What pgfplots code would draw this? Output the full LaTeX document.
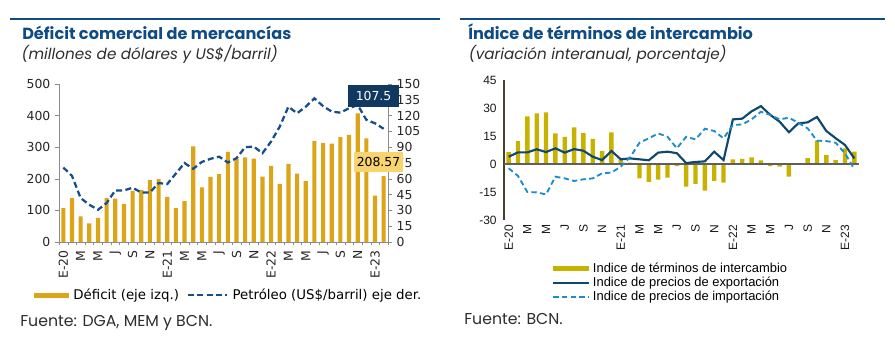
\documentclass[border=0pt]{standalone}
\usepackage{fontspec}
\usepackage{pgfplots}
\usepackage{pgfplotstable}
\pgfplotsset{compat=1.18}
\setmainfont{Poppins}
\newfontfamily\dejavu{DejaVu Sans}
\newfontfamily\libsans{Liberation Sans}
\definecolor{titleblue}{RGB}{16,76,132}
\definecolor{subgray}{RGB}{45,45,45}
\definecolor{barGold}{RGB}{220,165,25}
\definecolor{oilBlue}{RGB}{22,78,140}
\definecolor{boxNavy}{RGB}{16,56,96}
\definecolor{boxYellow}{RGB}{248,212,110}
\definecolor{totOlive}{RGB}{200,178,0}
\definecolor{expBlue}{RGB}{14,72,108}
\definecolor{impBlue}{RGB}{30,140,200}
\definecolor{axDark}{RGB}{70,65,40}
\definecolor{zeroGray}{RGB}{95,95,95}

\pgfplotstableread{
i def oil
0 107 70.7
1 139 62.8
2 81 41.7
3 59 35.4
4 76 30.6
5 139 37
6 137 49
7 120 49
8 162 51.5
9 165 47
10 197 47
11 199 56
12 143 55
13 107 65
14 129 75
15 303 69.5
16 173 76
17 206 79
18 215 81
19 285 75.5
20 265 79.6
21 268 90
22 264 90.6
23 207 84.3
24 241 95.4
25 184 109.6
26 247 128.5
27 216 122.2
28 193 128.5
29 320 136.4
30 313 129
31 311 123.8
32 332 122.8
33 339 127
34 407 130
35 328 116
36 147 112.7
37 208.57 107.5
}\lefttab

\pgfplotstableread{
i tot exp imp
0 6.4 3.9 -2.3
1 12.3 6.25 -6.4
2 25.5 6.25 -15
3 27.1 7.9 -15.2
4 27.7 6.4 -16.3
5 16.4 8.4 -6.8
6 14.5 6.1 -7.7
7 19.6 8 -9.1
8 16.6 7.1 -8.2
9 13.4 3.9 -7.7
10 7.1 2.1 -5
11 17 7 -4.6
12 2.5 2.5 -1.4
13 0.7 3 3.6
14 -7.7 2.5 11.4
15 -9.6 2 13.75
16 -8.4 6.1 16.4
17 -7.3 6.6 14.6
18 -1.2 5.8 8.4
19 -12.1 0.5 14.6
20 -10.7 1.1 13.2
21 -14.3 1.4 18.9
22 -9.1 6.6 17.7
23 -10 2.1 13.75
24 2.5 23.9 20.9
25 2.7 24.3 21.2
26 3.6 28.2 23.9
27 2.0 31 28
28 -1.1 26.3 26.3
29 -1.4 22.7 23.9
30 -6.8 17 24.8
31 0.2 21.8 22.1
32 3.2 22.3 19.1
33 12.5 25.2 12.5
34 4.8 17.7 12.3
35 2.1 13.8 11.4
36 8.4 10.2 5.7
37 6.6 3 -2.7
}\righttab

\begin{document}
\begin{tikzpicture}
\path[use as bounding box] (0,0) rectangle (671.25pt,266.25pt);
% top rules
\draw[titleblue, line width=0.8pt] (7.5pt,252pt) -- (330pt,252pt);
\draw[titleblue, line width=0.8pt] (345pt,252pt) -- (664pt,252pt);
% titles
\node[anchor=base west, inner sep=0pt, text=titleblue, font=\bfseries\fontsize{12.1}{14}\selectfont] at (16.5pt,236.8pt) {Déficit comercial de mercancías};
\node[anchor=base west, inner sep=0pt, text=subgray, font=\itshape\fontsize{11.4}{12}\selectfont] at (16pt,221.3pt) {(millones de dólares y US\$/barril)};
\node[anchor=base west, inner sep=0pt, text=titleblue, font=\bfseries\fontsize{12.1}{14}\selectfont] at (351pt,236.8pt) {Índice de términos de intercambio};
\node[anchor=base west, inner sep=0pt, text=subgray, font=\itshape\fontsize{11.4}{12}\selectfont] at (351.5pt,221.3pt) {(variación interanual, porcentaje)};
% sources
\node[anchor=base west, inner sep=0pt, text=subgray, font=\fontsize{11.8}{13}\selectfont] at (15pt,21.5pt) {Fuente: DGA, MEM y BCN.};
\node[anchor=base west, inner sep=0pt, text=subgray, font=\fontsize{11.8}{13}\selectfont] at (348pt,23pt) {Fuente: BCN.};

% ---------- left chart: bars ----------
\begin{axis}[
  at={(44.25pt,84.75pt)}, anchor=south west, scale only axis,
  width=246.75pt, height=118.5pt,
  xmin=-0.5, xmax=37.5, ymin=0, ymax=500,
  axis x line*=bottom, axis y line*=left,
  axis line style={draw=gray!90},
  tick style={draw=gray!90},
  tick align=outside,
  major tick length=3pt, minor tick length=2.5pt,
  ytick={0,100,...,500},
  xtick={0,2,...,36},
  minor xtick={-0.5,0.5,...,37.5},
  major x tick style={draw=none},
  xticklabels={E-20,M,M,J,S,N,E-21,M,M,J,S,N,E-22,M,M,J,S,N,E-23},
  xticklabel style={rotate=90, anchor=east},
  tick label style={font=\dejavu\fontsize{9.3}{10}\selectfont, text=black!85},
  /pgf/number format/assume math mode=true,
]
\addplot[ybar, bar width=3.1pt, fill=barGold, draw=none] table[x=i, y=def] {\lefttab};
\end{axis}
% ---------- left chart: oil ----------
\begin{axis}[
  at={(44.25pt,84.75pt)}, anchor=south west, scale only axis,
  width=246.75pt, height=118.5pt,
  xmin=-0.5, xmax=37.5, ymin=0, ymax=150,
  hide x axis, axis y line*=right,
  axis line style={draw=gray!90},
  tick style={draw=gray!90},
  tick align=outside, major tick length=3pt,
  ytick={0,15,...,150},
  tick label style={font=\dejavu\fontsize{9.3}{10}\selectfont, text=black!85},
  /pgf/number format/assume math mode=true,
  legend style={at={(-0.078,-0.335)}, anchor=west, draw=none, fill=none,
    legend columns=2, inner sep=0pt,
    font=\dejavu\fontsize{10}{11}\selectfont,
    /tikz/every odd column/.append style={column sep=1.5pt},
    /tikz/every even column/.append style={column sep=4pt}},
]
\addlegendimage{legend image code/.code={\fill[barGold] (0pt,-1.6pt) rectangle (26pt,1.6pt);}}
\addlegendentry{Déficit (eje izq.)}
\addplot[oilBlue, line width=1.7pt, dash pattern=on 4.5pt off 2.5pt,
  legend image code/.code={\draw[oilBlue, line width=1.7pt, dash pattern=on 4.5pt off 2.5pt] (0pt,0pt) -- (29pt,0pt);}]
  table[x=i, y=oil] {\lefttab};
\addlegendentry{Petróleo (US\$/barril) eje der.}
\coordinate (boxA) at (axis cs:35.83,138.6);
\coordinate (boxB) at (axis cs:36.4,75.9);
\end{axis}
\node[fill=boxNavy, text=white, font=\dejavu\fontsize{9.3}{10}\selectfont, minimum width=38pt, minimum height=16pt, inner sep=1pt] at (boxA) {107.5};
\node[fill=boxYellow, text=black, font=\dejavu\fontsize{9.3}{10}\selectfont, minimum width=37pt, minimum height=15pt, inner sep=1pt] at (boxB) {208.57};

% ---------- right chart ----------
\begin{axis}[
  at={(378pt,101.25pt)}, anchor=south west, scale only axis,
  width=266.25pt, height=105pt,
  xmin=-0.5, xmax=37.5, ymin=-30, ymax=45,
  axis x line*=bottom, axis y line*=left,
  x axis line style={draw=none},
  y axis line style={draw=axDark, line width=0.8pt},
  major tick length=0pt,
  ytick={-30,-15,...,45},
  xtick={0,2,...,36},
  xticklabels={E-20,M,M,J,S,N,E-21,M,M,J,S,N,E-22,M,M,J,S,N,E-23},
  xticklabel style={rotate=90, anchor=east},
  yticklabel style={xshift=-2pt},
  tick label style={font=\libsans\fontsize{9}{10}\selectfont, text=black!90},
  /pgf/number format/assume math mode=true,
  legend style={at={(0.135,-0.45)}, anchor=west, draw=none, fill=none,
    legend columns=1, inner sep=0pt, row sep=-2pt,
    font=\libsans\fontsize{9.7}{10}\selectfont},
  legend cell align=left,
]
\addplot[ybar, bar width=3.3pt, fill=totOlive, draw=none,
  legend image code/.code={\fill[totOlive] (0pt,-1.9pt) rectangle (27pt,1.9pt);}]
  table[x=i, y=tot] {\righttab};
\addlegendentry{Indice de términos de intercambio}
\addplot[zeroGray, line width=0.8pt, forget plot] coordinates {(-0.5,0) (37.5,0)};
\addplot[expBlue, line width=1.6pt,
  legend image code/.code={\draw[expBlue, line width=1.6pt] (0pt,0pt) -- (27pt,0pt);}]
  table[x=i, y=exp] {\righttab};
\addlegendentry{Indice de precios de exportación}
\addplot[impBlue, line width=1.4pt, dash pattern=on 4pt off 2.5pt,
  legend image code/.code={\draw[impBlue, line width=1.4pt, dash pattern=on 4pt off 2.5pt] (0pt,0pt) -- (27pt,0pt);}]
  table[x=i, y=imp] {\righttab};
\addlegendentry{Indice de precios de importación}
\end{axis}
\end{tikzpicture}
\end{document}
